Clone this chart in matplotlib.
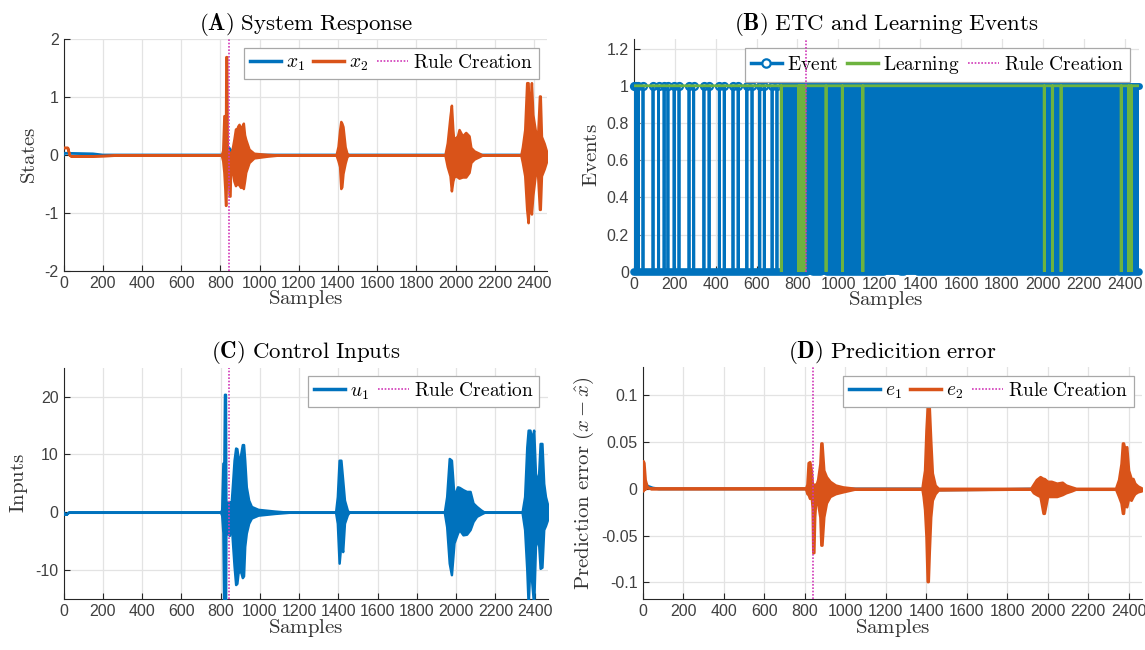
import numpy as np
import matplotlib
matplotlib.use("Agg")
import matplotlib.pyplot as plt
from matplotlib.lines import Line2D

plt.rcParams['mathtext.fontset'] = 'cm'
plt.rcParams['axes.unicode_minus'] = False
plt.rcParams['font.family'] = ['Liberation Sans', 'DejaVu Sans']

# ---------------- data ----------------
n_samples = 2468
rule_creation = 842

# (A) states: envelope (sample, upper, lower) of x2, line of x1
x2_t = [0, 20, 30, 40, 200, 300, 805, 812, 818, 823, 826, 828, 832, 835, 840, 845, 849, 853,
        860, 869, 877, 883, 889, 895, 903, 910, 917, 923, 929, 946, 971, 1039, 1100,
        1390, 1400, 1408, 1414, 1419, 1425, 1436, 1445, 1455,
        1945, 1957, 1971, 1978, 1985, 1991, 2000, 2009, 2017, 2034, 2051, 2068, 2077, 2094, 2119, 2136,
        2332, 2340, 2352, 2362, 2369, 2374, 2380, 2386, 2393, 2405, 2417, 2427, 2431, 2437, 2451, 2464, 2468]
x2_hi = [0.13, 0.13, 0.0, -0.02, -0.01, 0, 0, 0.08, 0.68, 0.68, 0.2, 1.7, 1.7, 0.1, 0.05, 0.05, 0.03, 0.02,
         0.1, 0.27, 0.45, 0.44, 0.5, 0.53, 0.45, 0.5, 0.55, 0.35, 0.27, 0.1, 0.03, 0.01, 0,
         0, 0.15, 0.43, 0.58, 0.55, 0.49, 0.14, 0.03, 0,
         0, 0.21, 0.67, 0.86, 0.44, 0.21, 0.3, 0.33, 0.44, 0.33, 0.39, 0.33, 0.13, 0.07, 0.03, 0,
         0, 0.14, 0.44, 1.25, 1.25, 0.7, 0.9, 1.25, 0.7, 0.44, 0.27, 1.02, 1.02, 0.32, 0.2, 0.05, 0.0]
x2_lo = [0.13, 0.13, 0.0, -0.02, -0.01, 0, 0, -0.1, -0.3, -0.6, -0.87, -0.87, -0.2, -0.1, -0.3, -0.71, -0.71, -0.1,
         -0.25, -0.45, -0.53, -0.5, -0.48, -0.52, -0.56, -0.5, -0.58, -0.45, -0.3, -0.13, -0.05, -0.02, 0,
         0, -0.1, -0.2, -0.58, -0.55, -0.32, -0.14, -0.03, 0,
         0, -0.2, -0.36, -0.62, -0.45, -0.38, -0.36, -0.38, -0.4, -0.38, -0.38, -0.3, -0.13, -0.07, -0.03, 0,
         0, -0.13, -0.36, -0.94, -1.17, -0.85, -0.82, -1.02, -0.7, -0.36, -0.3, -0.94, -0.94, -0.36, -0.24, -0.1, 0.0]
x1_t = [0, 5, 150, 200, 815, 835, 845, 860, 880, 2468]
x1_v = [0, 0.03, 0.02, 0, 0, 0.03, 0.12, 0.05, 0, 0]

# (B) events
event_sparse = [0, 10, 22, 45, 94, 121, 148, 167, 197, 221, 270, 293, 343, 368,
                418, 442, 485, 510, 553, 578, 616, 638, 676, 700]
event_dense_start = 722
zero_marker_gaps = [(845, 875), (915, 945), (1222, 1305), (1322, 1388), (1950, 1966), (2354, 2370)]
learning_off = [721, 806, 809, 812, 815, 818, 821, 824, 827, 830, 833, 836,
                940, 1020, 1120, 2007, 2047, 2089, 2383, 2420, 2432]

# (C) control input envelope
u1_t = [0, 3, 15, 25, 800, 806, 812, 817, 820, 825, 827, 832, 845, 849, 855,
        860, 869, 877, 883, 889, 900, 911, 917, 923, 931, 943, 957, 991, 1076, 1150,
        1386, 1395, 1404, 1413, 1422, 1431, 1446, 1455,
        1940, 1952, 1965, 1976, 1989, 2007, 2016, 2035, 2053, 2071, 2086, 2104, 2126, 2144,
        2336, 2349, 2360, 2367, 2376, 2385, 2395, 2404, 2418, 2428, 2437, 2446, 2455, 2468]
u1_hi = [0, -0.3, -0.3, 0, 0, 0.5, 8.5, 8.5, 20.4, 20.4, 2, 1.6, 1.8, 0.5, 2,
         4.4, 9, 11.1, 11, 9.5, 9.5, 11.7, 11.7, 9, 4.4, 2.1, 1, 0.5, 0.2, 0,
         0, 2.7, 9, 9, 5.6, 2.1, 0.3, 0,
         0, 2.7, 9.3, 9.0, 2.7, 4.4, 4.3, 3.9, 3.6, 3.6, 1.6, 1.0, 0.4, 0,
         0, 2.7, 11.3, 14.2, 14.2, 12.5, 14.2, 6.7, 5, 11.9, 11.9, 5, 2.7, 1]
u1_lo = [0, -0.3, -0.3, 0, 0, -0.5, -3.5, -20, -20, -20, -4, -3.5, -4, -1, -2,
         -4.8, -9.3, -12.5, -12.3, -10.5, -10, -11.3, -11, -5.9, -3.6, -1.9, -1, -0.5, -0.2, 0,
         0, -1.9, -8.8, -5.3, -6.8, -1.9, -0.4, 0,
         0, -2.5, -8.8, -10.8, -5.3, -3.6, -3.0, -3.9, -3.8, -3.0, -1.6, -0.7, -0.3, 0,
         0, -3, -9.9, -16, -8.8, -12, -16, -5.9, -4.2, -9.7, -9.5, -3, -2.3, -1]

# (D) prediction error envelope of e2, line of e1
e2_t = [0, 2, 6, 12, 22, 40, 805, 812, 818, 825, 832, 838, 841, 845, 849, 855,
        865, 876, 881, 885, 894, 907, 925, 952, 989, 1050,
        1380, 1386, 1393, 1400, 1406, 1410, 1415, 1422, 1430, 1444, 1460,
        1917, 1930, 1945, 1963, 1978, 1983, 1999, 2018, 2045, 2072, 2090, 2118, 2140,
        2336, 2351, 2363, 2370, 2374, 2381, 2390, 2399, 2412, 2421, 2430, 2445, 2463]
e2_hi = [0, 0.03, 0.028, 0.01, 0.002, 0.0005, 0.0005, 0.005, 0.028, 0.029, 0.02, 0.005, 0.002, 0.002, 0.005, 0.003,
         0.01, 0.027, 0.049, 0.049, 0.02, 0.013, 0.008, 0.004, 0.002, 0.0005,
         0.0005, 0.01, 0.02, 0.063, 0.087, 0.087, 0.087, 0.052, 0.017, 0.004, 0.0005,
         0.0005, 0.005, 0.01, 0.013, 0.011, 0.011, 0.008, 0.008, 0.006, 0.007, 0.004, 0.002, 0.0005,
         0.0005, 0.01, 0.027, 0.049, 0.049, 0.042, 0.045, 0.02, 0.011, 0.011, 0.006, 0.003, 0.001]
e2_lo = [0, -0.002, 0, 0, 0.002, 0.0005, 0.0005, -0.005, -0.006, -0.01, -0.005, -0.02, -0.068, -0.068, -0.03, -0.01,
         -0.015, -0.03, -0.06, -0.06, -0.03, -0.015, -0.008, -0.005, -0.003, 0,
         0, -0.008, -0.022, -0.051, -0.099, -0.099, -0.067, -0.03, -0.012, -0.005, -0.001,
         0, -0.004, -0.006, -0.008, -0.026, -0.026, -0.008, -0.008, -0.008, -0.006, -0.004, -0.002, 0.0,
         0, -0.008, -0.015, -0.026, -0.026, -0.01, -0.019, -0.01, -0.012, -0.008, -0.005, -0.003, -0.002]
e1_t = [0, 4, 10, 25, 50, 80, 1420, 1440, 1700, 1940, 2130, 2455, 2468]
e1_v = [-0.002, 0.008, 0.007, 0.003, 0.001, 0, 0, -0.0012, -0.0008, 0, -0.0008, -0.0008, 0]

x_ticks = list(range(0, 2401, 200))

# ---------------- styling ----------------
BLUE = '#0072BD'
ORANGE = '#D95319'
GREEN = '#6DB33F'
MAG = '#D13AB8'
GRIDC = '#E3E3E3'
TICKC = '#404040'
W, H = 1145, 650
LW = 2.0

fig = plt.figure(figsize=(W / 100, H / 100), dpi=100)


def make_axes(left, top, right, bottom):
    return fig.add_axes([left / W, 1 - bottom / H, (right - left) / W, (bottom - top) / H])


def style(ax, title_tag, title_txt, ylabel, ylim, yticks, yticklabels=None):
    ax.set_xlim(0, n_samples)
    ax.set_ylim(*ylim)
    ax.set_xticks(x_ticks)
    ax.set_yticks(yticks)
    if yticklabels is not None:
        ax.set_yticklabels(yticklabels)
    ax.grid(True, color=GRIDC, lw=0.9)
    ax.set_axisbelow(True)
    for s in ('top', 'right'):
        ax.spines[s].set_visible(False)
    for s in ('left', 'bottom'):
        ax.spines[s].set_color('#262626')
        ax.spines[s].set_linewidth(0.8)
    ax.tick_params(direction='in', length=4, width=0.8, colors='#262626',
                   labelcolor=TICKC, labelsize=11.5)
    ax.set_title(r'$\mathbf{' + title_tag + r'}\ \mathrm{' + title_txt + r'}$', fontsize=16.5, pad=7)
    ax.set_xlabel(r'$\mathrm{Samples}$', fontsize=15, labelpad=-1.5, color='#333333')
    ax.set_ylabel(ylabel, fontsize=15, labelpad=4, color='#333333')


def legend(ax, handles, labels):
    leg = ax.legend(handles, labels, loc='upper right', ncol=len(labels), fontsize=14,
                    frameon=True, fancybox=False, framealpha=1, edgecolor='#A8A8A8',
                    borderaxespad=0.45, handlelength=1.6, handletextpad=0.25,
                    columnspacing=0.45, borderpad=0.3)
    leg.get_frame().set_linewidth(0.9)
    return leg


def rule_line(ax):
    ax.axvline(rule_creation, color=MAG, lw=1.2, ls=(0, (1, 1)), zorder=6)


h_rule = Line2D([], [], color=MAG, lw=1.2, ls=(0, (1, 1)))
lbl_rule = r'$\mathrm{Rule\ Creation}$'

# ---------------- (A) ----------------
axA = make_axes(63.5, 39.3, 547.5, 270.7)
axA.plot(x1_t, x1_v, color=BLUE, lw=LW, zorder=3)
axA.fill_between(x2_t, x2_lo, x2_hi, facecolor=ORANGE, edgecolor=ORANGE, lw=1.8,
                 joinstyle='round', zorder=4)
rule_line(axA)
style(axA, '(A)', r'System\ Response', r'$\mathrm{States}$', (-2, 2), [-2, -1, 0, 1, 2])
legend(axA, [Line2D([], [], color=BLUE, lw=2.5), Line2D([], [], color=ORANGE, lw=2.5), h_rule],
       [r'$x_1$', r'$x_2$', lbl_rule])

# ---------------- (B) ----------------
axB = make_axes(633.8, 39.3, 1138.6, 271.7)
samples = np.arange(0, n_samples + 1)
event_series = np.zeros(len(samples))
event_series[event_sparse] = 1
axB.plot(samples[:event_dense_start], event_series[:event_dense_start], color=BLUE, lw=LW, zorder=3)
axB.fill_between([event_dense_start, n_samples], 0, 1, color=BLUE, lw=0, zorder=3)
# marker rows
axB.plot(event_sparse, np.ones(len(event_sparse)), 'o', ms=5, mfc='none', mec=BLUE, mew=1.6,
         clip_on=False, zorder=3)
axB.plot([event_dense_start, n_samples], [1, 1], color=BLUE, lw=5, solid_capstyle='round',
         clip_on=False, zorder=3)
axB.plot([0, n_samples], [0, 0], color=BLUE, lw=3.5, solid_capstyle='round',
         clip_on=False, zorder=3)
edges = [0]
for a, b in zero_marker_gaps:
    edges += [a, b]
edges.append(n_samples)
for i in range(0, len(edges), 2):
    axB.plot([edges[i], edges[i + 1]], [0, 0], color=BLUE, lw=5.5, solid_capstyle='round',
             clip_on=False, zorder=3)
learning_series = np.ones(len(samples))
learning_series[learning_off] = 0
axB.plot(samples, learning_series, color=GREEN, lw=LW, zorder=4)
rule_line(axB)
style(axB, '(B)', r'ETC\ and\ Learning\ Events', r'$\mathrm{Events}$', (0, 1.25),
      [0, 0.2, 0.4, 0.6, 0.8, 1, 1.2], ['0', '0.2', '0.4', '0.6', '0.8', '1', '1.2'])
legend(axB, [Line2D([], [], color=BLUE, lw=2.5, marker='o', ms=6, mfc='white', mew=1.6),
             Line2D([], [], color=GREEN, lw=2.5), h_rule],
       [r'$\mathrm{Event}$', r'$\mathrm{Learning}$', lbl_rule])

# ---------------- (C) ----------------
axC = make_axes(63.5, 367.7, 548, 599)
axC.fill_between(u1_t, u1_lo, u1_hi, facecolor=BLUE, edgecolor=BLUE, lw=1.8,
                 joinstyle='round', zorder=3)
rule_line(axC)
style(axC, '(C)', r'Control\ Inputs', r'$\mathrm{Inputs}$', (-15, 25), [-10, 0, 10, 20])
legend(axC, [Line2D([], [], color=BLUE, lw=2.5), h_rule], [r'$u_1$', lbl_rule])

# ---------------- (D) ----------------
axD = make_axes(642.6, 367.3, 1142.4, 599)
axD.plot(e1_t, e1_v, color=BLUE, lw=LW, zorder=3)
axD.fill_between(e2_t, e2_lo, e2_hi, facecolor=ORANGE, edgecolor=ORANGE, lw=2.0,
                 joinstyle='round', zorder=4)
rule_line(axD)
style(axD, '(D)', r'Predicition\ error', r'$\mathrm{Prediction\ error}\ (x-\hat{x})$',
      (-0.1177, 0.13), [-0.1, -0.05, 0, 0.05, 0.1], ['-0.1', '-0.05', '0', '0.05', '0.1'])
legend(axD, [Line2D([], [], color=BLUE, lw=2.5), Line2D([], [], color=ORANGE, lw=2.5), h_rule],
       [r'$e_1$', r'$e_2$', lbl_rule])

fig.savefig('out.png', dpi=100)
